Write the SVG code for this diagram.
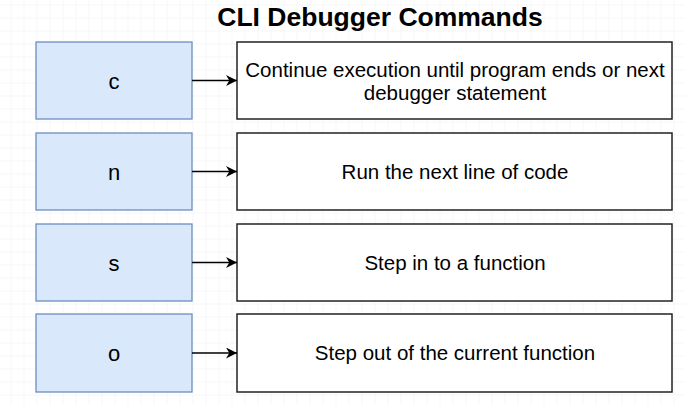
<svg xmlns="http://www.w3.org/2000/svg" width="685" height="405" viewBox="0 0 685 405">
<defs>
<pattern id="grid" x="10.5" y="4.5" width="13" height="13" patternUnits="userSpaceOnUse">
<path d="M0 0H13M0 0V13" fill="none" stroke="#f0f0f0" stroke-width="1"/>
</pattern>
<marker id="arr" viewBox="0 0 10 10" refX="10" refY="5" markerWidth="11" markerHeight="11" markerUnits="userSpaceOnUse" orient="auto">
<path d="M0 0L10 5L0 10L3 5Z" fill="#000"/>
</marker>
<style>
.cmd{fill:#dae8fc;stroke:#6c8ebf;stroke-width:1.3}
.desc{fill:#fff;stroke:#222;stroke-width:1.5}
.ct{font-family:"Liberation Sans",Arial,sans-serif;font-size:22px;fill:#000;text-anchor:middle}
.dt{font-family:"Liberation Sans",Arial,sans-serif;font-size:20.5px;fill:#000;text-anchor:middle}
.conn{stroke:#000;stroke-width:1.3;fill:none;marker-end:url(#arr)}
</style>
</defs>
<rect width="685" height="405" fill="#fff"/>
<rect width="685" height="405" fill="url(#grid)"/>
<text x="380" y="26" font-family="'Liberation Sans',Arial,sans-serif" font-size="26.5" font-weight="bold" text-anchor="middle" fill="#000">CLI Debugger Commands</text>
<g id="cmd-c"><rect class="cmd" x="36" y="42" width="156" height="77"/><text class="ct" x="114" y="89">c</text></g>
<g id="cmd-n"><rect class="cmd" x="36" y="133" width="156" height="77"/><text class="ct" x="114" y="180">n</text></g>
<g id="cmd-s"><rect class="cmd" x="36" y="224" width="156" height="77"/><text class="ct" x="114" y="271">s</text></g>
<g id="cmd-o"><rect class="cmd" x="36" y="314" width="156" height="78"/><text class="ct" x="114" y="361">o</text></g>
<g id="desc-c"><rect class="desc" x="237" y="42" width="435" height="77"/><text class="dt" x="455" y="77">Continue execution until program ends or next</text><text class="dt" x="455" y="100">debugger statement</text></g>
<g id="desc-n"><rect class="desc" x="237" y="133" width="435" height="77"/><text class="dt" x="455" y="179">Run the next line of code</text></g>
<g id="desc-s"><rect class="desc" x="237" y="224" width="435" height="77"/><text class="dt" x="455" y="270">Step in to a function</text></g>
<g id="desc-o"><rect class="desc" x="237" y="314" width="435" height="78"/><text class="dt" x="455" y="360">Step out of the current function</text></g>
<g id="connectors">
<path class="conn" d="M192 80.5H237"/>
<path class="conn" d="M192 171.5H237"/>
<path class="conn" d="M192 262.5H237"/>
<path class="conn" d="M192 353H237"/>
</g>
</svg>
